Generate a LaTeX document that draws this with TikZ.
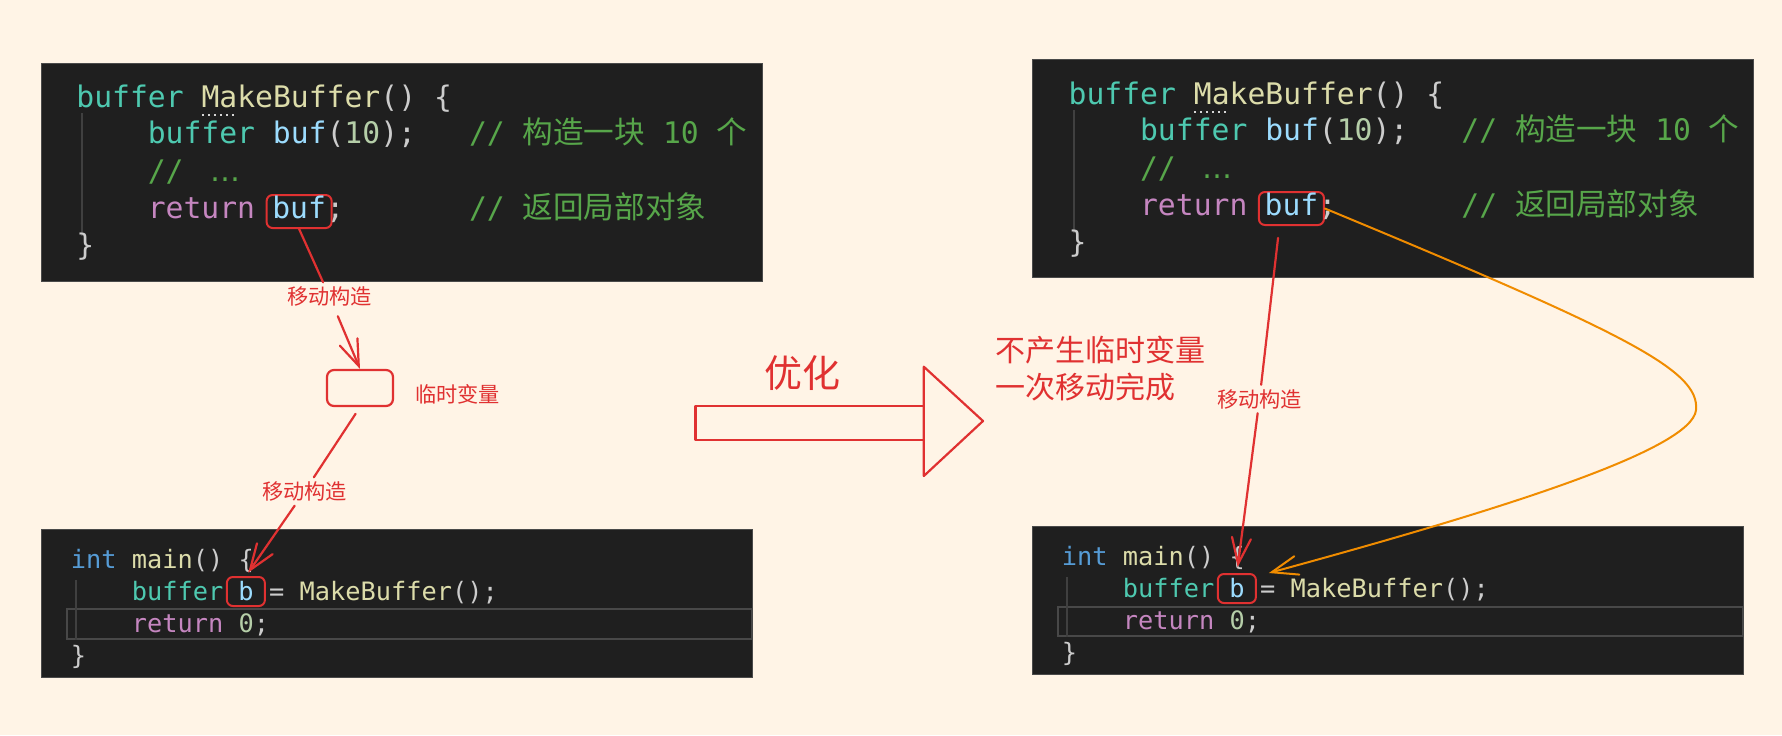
\documentclass[tikz,border=0pt]{standalone}
\usepackage{fontspec}
\usetikzlibrary{arrows.meta}
\newfontfamily\codefont{DejaVu Sans Mono}
\newfontfamily\cjk{Noto Sans CJK SC}
\newfontfamily\dejavu{DejaVu Sans}
\definecolor{bg}{HTML}{FFF4E6}
\definecolor{panel}{HTML}{1F1F1F}
\definecolor{panelborder}{HTML}{4A4A4A}
\definecolor{exred}{HTML}{E03131}
\definecolor{exorange}{HTML}{F08C00}
\definecolor{cty}{HTML}{4EC9B0}
\definecolor{cfn}{HTML}{DCDCAA}
\definecolor{cpu}{HTML}{CCCCCC}
\definecolor{cva}{HTML}{9CDCFE}
\definecolor{cnu}{HTML}{B5CEA8}
\definecolor{ccm}{HTML}{57A64A}
\definecolor{ckw}{HTML}{C586C0}
\definecolor{cint}{HTML}{569CD6}
\definecolor{guide}{HTML}{404040}
\definecolor{hl}{HTML}{484848}
\newcommand\codeTop{\codefont\fontsize{14.85pt}{18pt}\selectfont}
\newcommand\codeBot{\codefont\fontsize{12.66pt}{16pt}\selectfont}
\newcommand\cjc[1]{{\cjk\fontsize{15.3pt}{18pt}\selectfont #1}}
\newcommand\codeell{{\dejavu\fontsize{15pt}{18pt}\selectfont …}}
\frenchspacing
\tikzset{
  codeT/.style={anchor=base west, inner sep=0pt, font=\codeTop},
  codeB/.style={anchor=base west, inner sep=0pt, font=\codeBot},
  hlbox/.style={draw=exred, line width=1pt, rounded corners=3pt, inner sep=0pt, anchor=base, text=cva},
  hlT/.style={hlbox, font=\codeTop, minimum width=32.5pt, text height=11.5pt, text depth=5pt},
  hlB/.style={hlbox, font=\codeBot, minimum width=19pt, text height=11.5pt, text depth=3pt},
  codepanel/.style={fill=panel, draw=panelborder, line width=0.5pt},
  guideline/.style={draw=guide, line width=0.6pt},
  curline/.style={draw=hl, line width=0.8pt},
  redlbl/.style={text=exred, font=\cjk\fontsize{10.6pt}{12pt}\selectfont, inner sep=2pt},
  redline/.style={draw=exred, line width=1.1pt, line cap=round},
  redarrow/.style={redline, -{Straight Barb[length=13pt,width=9.5pt,line cap=round]}},
  orangearrow/.style={draw=exorange, line width=1pt, line cap=round, -{Straight Barb[length=13pt,width=9.5pt,line cap=round]}},
  bigarrow/.style={draw=exred, line width=1.1pt, line join=round},
  dotline/.style={draw=cpu!80, line width=1pt, dash pattern=on 1pt off 2pt}
}
\begin{document}
\begin{tikzpicture}[x=0.5pt,y=-0.5pt]
\useasboundingbox (0,0) rectangle (1782,735);
\fill[bg] (0,0) rectangle (1782,735);

% ---------- panels ----------
\path[codepanel] (41,63) rectangle (762,281);
\path[codepanel] (1032,59) rectangle (1753,277);
\path[codepanel] (41,529) rectangle (752,677);
\path[codepanel] (1032,526) rectangle (1743,674);

% ---------- top-left code ----------
\draw[guideline] (82,113) -- (82,236);
\draw[dotline] (202,115) -- (237,115);
\node[codeT] (tl1) at (76,107) {{\color{cty}buffer} {\color{cfn}MakeBuffer}{\color{cpu}() \{}};
\node[codeT] (tl2) at ({76+4*17.85},143) {{\color{cty}buffer} {\color{cva}buf}{\color{cpu}(}{\color{cnu}10}{\color{cpu});}};
\node[codeT] (tl2c) at ({76+22*17.85},143) {\color{ccm}// \cjc{构造一块} 10 \cjc{个}};
\node[codeT] (tl3) at ({76+4*17.85},181) {\color{ccm}//};
\node[codeT] (tl3e) at (210,181) {\color{ccm}\codeell};
\node[codeT] (tl4) at ({76+4*17.85},218) {\color{ckw}return};
\node[hlT] (bufL) at ({76+12.5*17.85},218) {buf};
\node[codeT] (tl4s) at ({76+14*17.85},218) {\color{cpu};};
\node[codeT] (tl4c) at ({76+22*17.85},218) {\color{ccm}// \cjc{返回局部对象}};
\node[codeT] (tl5) at (76,255) {\color{cpu}\}};

% ---------- top-right code ----------
\draw[guideline] (1074,110) -- (1074,233);
\draw[dotline] (1194,112) -- (1229,112);
\node[codeT] (tr1) at (1068.3,104) {{\color{cty}buffer} {\color{cfn}MakeBuffer}{\color{cpu}() \{}};
\node[codeT] (tr2) at ({1068.3+4*17.85},140) {{\color{cty}buffer} {\color{cva}buf}{\color{cpu}(}{\color{cnu}10}{\color{cpu});}};
\node[codeT] (tr2c) at ({1068.3+22*17.85},140) {\color{ccm}// \cjc{构造一块} 10 \cjc{个}};
\node[codeT] (tr3) at ({1068.3+4*17.85},178) {\color{ccm}//};
\node[codeT] (tr3e) at (1202,178) {\color{ccm}\codeell};
\node[codeT] (tr4) at ({1068.3+4*17.85},215) {\color{ckw}return};
\node[hlT] (bufR) at ({1068.3+12.5*17.85},215) {buf};
\node[codeT] (tr4s) at ({1068.3+14*17.85},215) {\color{cpu};};
\node[codeT] (tr4c) at ({1068.3+22*17.85},215) {\color{ccm}// \cjc{返回局部对象}};
\node[codeT] (tr5) at (1068.3,252) {\color{cpu}\}};

% ---------- bottom-left code ----------
\draw[curline] (67,609) rectangle (752,639);
\draw[guideline] (76,580) -- (76,640);
\node[codeB] (bl1) at (70.5,568) {{\color{cint}int} {\color{cfn}main}{\color{cpu}() \{}};
\node[codeB] (bl2) at ({70.5+4*15.25},600) {\color{cty}buffer};
\node[hlB] (bL) at ({70.5+11.5*15.25},600) {b};
\node[codeB] (bl2r) at ({70.5+13*15.25},600) {{\color{cpu}=} {\color{cfn}MakeBuffer}{\color{cpu}();}};
\node[codeB] (bl3) at ({70.5+4*15.25},632) {{\color{ckw}return} {\color{cnu}0}{\color{cpu};}};
\node[codeB] (bl4) at (70.5,664) {\color{cpu}\}};

% ---------- bottom-right code ----------
\draw[curline] (1058,607) rectangle (1743,636);
\draw[guideline] (1067,577) -- (1067,637);
\node[codeB] (br1) at (1061.5,565) {{\color{cint}int} {\color{cfn}main}{\color{cpu}() \{}};
\node[codeB] (br2) at ({1061.5+4*15.25},597) {\color{cty}buffer};
\node[hlB] (bR) at ({1061.5+11.5*15.25},597) {b};
\node[codeB] (br2r) at ({1061.5+13*15.25},597) {{\color{cpu}=} {\color{cfn}MakeBuffer}{\color{cpu}();}};
\node[codeB] (br3) at ({1061.5+4*15.25},629) {{\color{ckw}return} {\color{cnu}0}{\color{cpu};}};
\node[codeB] (br4) at (1061.5,661) {\color{cpu}\}};

% ---------- left annotations ----------
\node[redlbl] (lbl1) at (329.5,296.5) {移动构造};
\node[draw=exred, line width=1.1pt, rounded corners=3.5pt, minimum width=33pt, minimum height=18pt, inner sep=0pt] (tmp) at (360,388) {};
\node[redlbl] (tmplbl) at (457.5,394) {临时变量};
\node[redlbl] (lbl2) at (304.5,491.5) {移动构造};
\draw[redline] (bufL.south) -- (lbl1);
\draw[redarrow, shorten <=3pt] (lbl1) -- (tmp.north);
\draw[redline, shorten <=4pt] (tmp.south) -- (lbl2);
\draw[redarrow, shorten >=2pt] (lbl2) -- (bL.north);

% ---------- middle big arrow ----------
\draw[bigarrow] (695.5,406) rectangle (923.8,440);
\draw[bigarrow] (923.8,366.7) -- (983,421) -- (923.8,476) -- cycle;
\node[text=exred, font=\cjk\fontsize{19pt}{22pt}\selectfont, inner sep=0pt] (youhua) at (802,373.5) {优化};
\node[text=exred, font=\cjk\fontsize{15pt}{18.5pt}\selectfont, inner sep=0pt, anchor=west, align=left] (note) at (995,369) {不产生临时变量\\一次移动完成};

% ---------- right annotations ----------
\node[redlbl] (lblR) at (1259.5,399) {移动构造};
\draw[redline, shorten <=6pt] ([xshift=-6pt]bufR.south) -- (lblR);
\draw[redarrow, shorten >=3pt] (lblR) -- (bR.north);
\draw[orangearrow] (bufR.east) .. controls (1625,333) and (1700,370) .. (1696,410)
      .. controls (1692,450) and (1500,510) .. ([xshift=6pt]bR.north east);
\end{tikzpicture}
\end{document}
